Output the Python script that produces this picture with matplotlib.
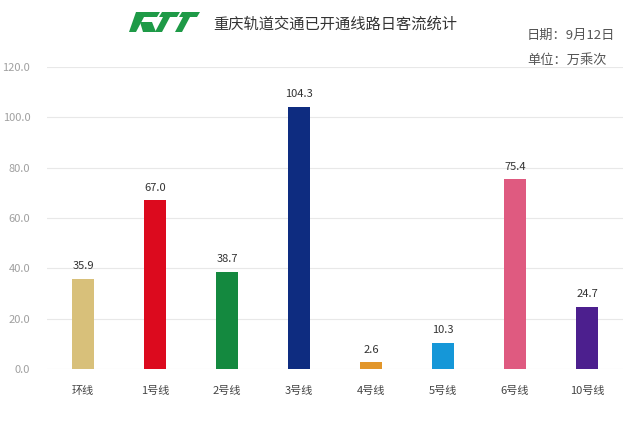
import numpy as np
import matplotlib.pyplot as plt
from matplotlib.patches import Polygon

plt.rcParams['font.family'] = ['Noto Sans CJK SC', 'DejaVu Sans']

lines = ['环线', '1号线', '2号线', '3号线', '4号线', '5号线', '6号线', '10号线']
flow = [35.9, 67.0, 38.7, 104.3, 2.6, 10.3, 75.4, 24.7]
colors = ['#D8C07A', '#DC0A1E', '#14893F', '#0E2C80', '#E2962A', '#1597D8', '#DF5A80', '#4C1F8E']
yticks = [0, 20, 40, 60, 80, 100, 120]

fig = plt.figure(figsize=(6.4, 4.3), dpi=100)
fig.patch.set_facecolor('white')
ax = fig.add_axes([0.0734, 0.142, 0.9, 0.702])

x = np.arange(len(lines))
bars = ax.bar(x, flow, width=0.3, color=colors, zorder=3)
for b, v in zip(bars, flow):
    ax.text(b.get_x() + b.get_width() / 2, v + 3, '%.1f' % v,
            ha='center', va='bottom', fontsize=8, color='#333333')

ax.set_xlim(-0.5, 7.5)
ax.set_ylim(0, 120)
ax.set_yticks(yticks)
ax.set_yticklabels(['%.1f' % t for t in yticks])
ax.set_xticks(x)
ax.set_xticklabels(lines)
ax.grid(axis='y', color='#e8e8e8', linewidth=0.8, zorder=0)
for s in ax.spines.values():
    s.set_visible(False)
ax.tick_params(axis='y', length=0, pad=12, labelsize=8, labelcolor='#a0a0a0')
ax.tick_params(axis='x', length=0, pad=12, labelsize=8, labelcolor='#444444')

# logo (rough)
g = '#1E9A47'
W, H = 640.0, 430.0
def poly(pts):
    fig.patches.append(Polygon([(px / W, 1 - py / H) for px, py in pts], closed=True,
                               transform=fig.transFigure, facecolor=g, edgecolor='none'))
poly([(136, 12), (160, 12), (157, 17), (144, 17), (136, 32), (129, 32)])
poly([(140, 22), (152, 22), (156, 32), (143, 32)])
poly([(162, 12), (180, 12), (177, 17), (170, 17), (162, 32), (155, 32), (163, 17), (159, 17)])
poly([(182, 12), (200, 12), (197, 17), (190, 17), (182, 32), (175, 32), (183, 17), (179, 17)])

fig.text(213 / W, 1 - 24 / H, '重庆轨道交通已开通线路日客流统计', fontsize=11,
         color='#333333', va='center', ha='left')
fig.text(527 / W, 1 - 35 / H, '日期：9月12日', fontsize=9.5, color='#555555', va='center')
fig.text(527 / W, 1 - 60 / H, '单位：万乘次', fontsize=9.5, color='#555555', va='center')

plt.savefig('out.png', dpi=100)
